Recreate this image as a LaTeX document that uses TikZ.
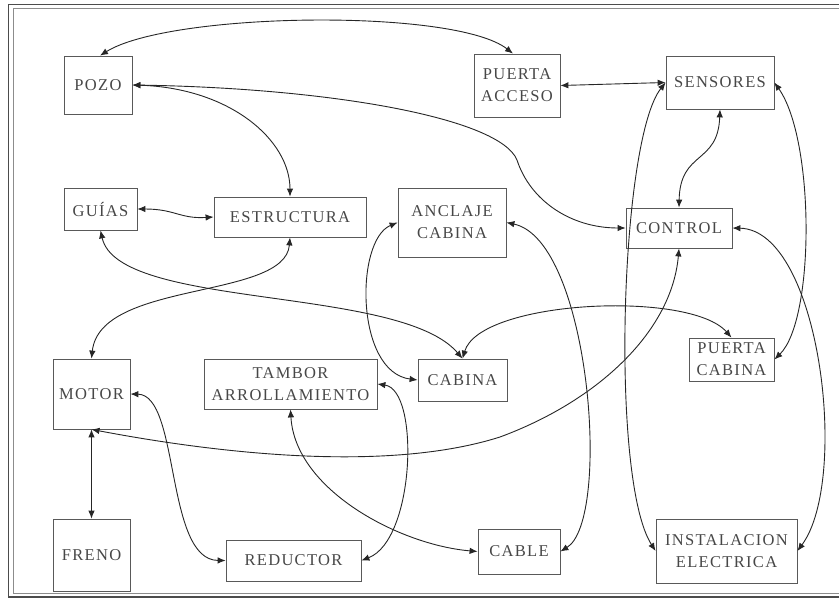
\documentclass[tikz,border=0pt]{standalone}
\usepackage{fontspec}
\setmainfont{Liberation Serif}[LetterSpace=8]
\usetikzlibrary{arrows.meta}

\begin{document}
\begin{tikzpicture}[x=1pt,y=-1pt,
  box/.style={draw=black!65, line width=0.8pt, inner sep=0pt, align=center,
              text=black!72, font=\fontsize{16.5}{22}\selectfont},
  link/.style={draw=black!85, line width=0.9pt,
               {Latex[length=8pt,width=6.5pt]}-{Latex[length=8pt,width=6.5pt]}},
  frameouter/.style={draw=black!70, line width=1.8pt},
  frameinner/.style={draw=black!45, line width=0.9pt},
]
\useasboundingbox (0,0) rectangle (839,600);

% page frame
\draw[frameouter] (839,4.5) -- (8.5,4.5) -- (8.5,597) -- (839,597);
\draw[frameinner] (839,8.5) -- (13,8.5) -- (13,593.5) -- (839,593.5);

% components
\node[box, minimum width=68pt,  minimum height=58pt] (pozo)    at (98,85)      {POZO};
\node[box, minimum width=86pt,  minimum height=63pt] (acceso)  at (517,85.5)   {PUERTA\\ACCESO};
\node[box, minimum width=108pt, minimum height=53pt] (sens)    at (720,82.5)   {SENSORES};
\node[box, minimum width=73pt,  minimum height=42pt] (guias)   at (100.5,209)  {GUÍAS};
\node[box, minimum width=152pt, minimum height=40pt] (estr)    at (290,217)    {ESTRUCTURA};
\node[box, minimum width=108pt, minimum height=69pt] (anclaje) at (452,222.5)  {ANCLAJE\\CABINA};
\node[box, minimum width=106pt, minimum height=40pt] (control) at (679,228)    {CONTROL};
\node[box, minimum width=77pt,  minimum height=70pt] (motor)   at (91.5,394)   {MOTOR};
\node[box, minimum width=173pt, minimum height=50pt] (tambor)  at (290.5,384)  {TAMBOR\\ARROLLAMIENTO};
\node[box, minimum width=89pt,  minimum height=42pt] (cabina)  at (462.5,380)  {CABINA};
\node[box, minimum width=85pt,  minimum height=43pt] (pcabina) at (731.5,359.5) {PUERTA\\CABINA};
\node[box, minimum width=77pt,  minimum height=72pt] (freno)   at (91.5,555)   {FRENO};
\node[box, minimum width=135pt, minimum height=41pt] (reductor) at (293.5,560.5) {REDUCTOR};
\node[box, minimum width=82pt,  minimum height=45pt] (cable)   at (519,551.5)  {CABLE};
\node[box, minimum width=141pt, minimum height=64pt] (inst)    at (726.5,551)  {INSTALACION\\ELECTRICA};

% relations
\draw[link] ([xshift=2pt]pozo.north) .. controls (170,12) and (455,8) .. ([xshift=-4pt]acceso.north);
\draw[link] (pozo.east) .. controls (330,88) and (500,118) .. (517,160)
                        .. controls (530,200) and (570,228) .. (control.west);
\draw[link] (pozo.east) .. controls (230,88) and (290,140) .. (estr.north);
\draw[link] (guias.east) .. controls (175,209) and (180,219) .. (estr.west);
\draw[link] (guias.south) .. controls (118,310) and (400,285) .. (cabina.north);
\draw[link] (estr.south) .. controls (285,300) and (100,280) .. (motor.north);
\draw[link] (anclaje.west) .. controls (355,240) and (355,372) .. (cabina.west);
\draw[link] (anclaje.east) .. controls (590,240) and (612,520) .. (cable.east);
\draw[link] (acceso.east) -- (sens.west);
\draw[link] (sens.south) .. controls (718,165) and (680,150) .. (control.north);
\draw[link] (sens.west) .. controls (620,140) and (610,480) .. (inst.west);
\draw[link] (sens.east) .. controls (815,140) and (815,320) .. (pcabina.east);
\draw[link] (control.east) .. controls (820,230) and (850,480) .. (inst.east);
\draw[link] (cabina.north) .. controls (480,300) and (690,290) .. (pcabina.north);
\draw[link] (motor.east) .. controls (180,395) and (165,560) .. (reductor.west);
\draw[link] (motor.south) -- (freno.north);
\draw[link] (tambor.south) .. controls (295,490) and (400,545) .. (cable.west);
\draw[link] (tambor.east) .. controls (420,390) and (415,540) .. (reductor.east);
\draw[link] (control.south) .. controls (672,330) and (600,400) .. (500,437)
                            .. controls (380,475) and (200,450) .. (motor.south);
\end{tikzpicture}
\end{document}
